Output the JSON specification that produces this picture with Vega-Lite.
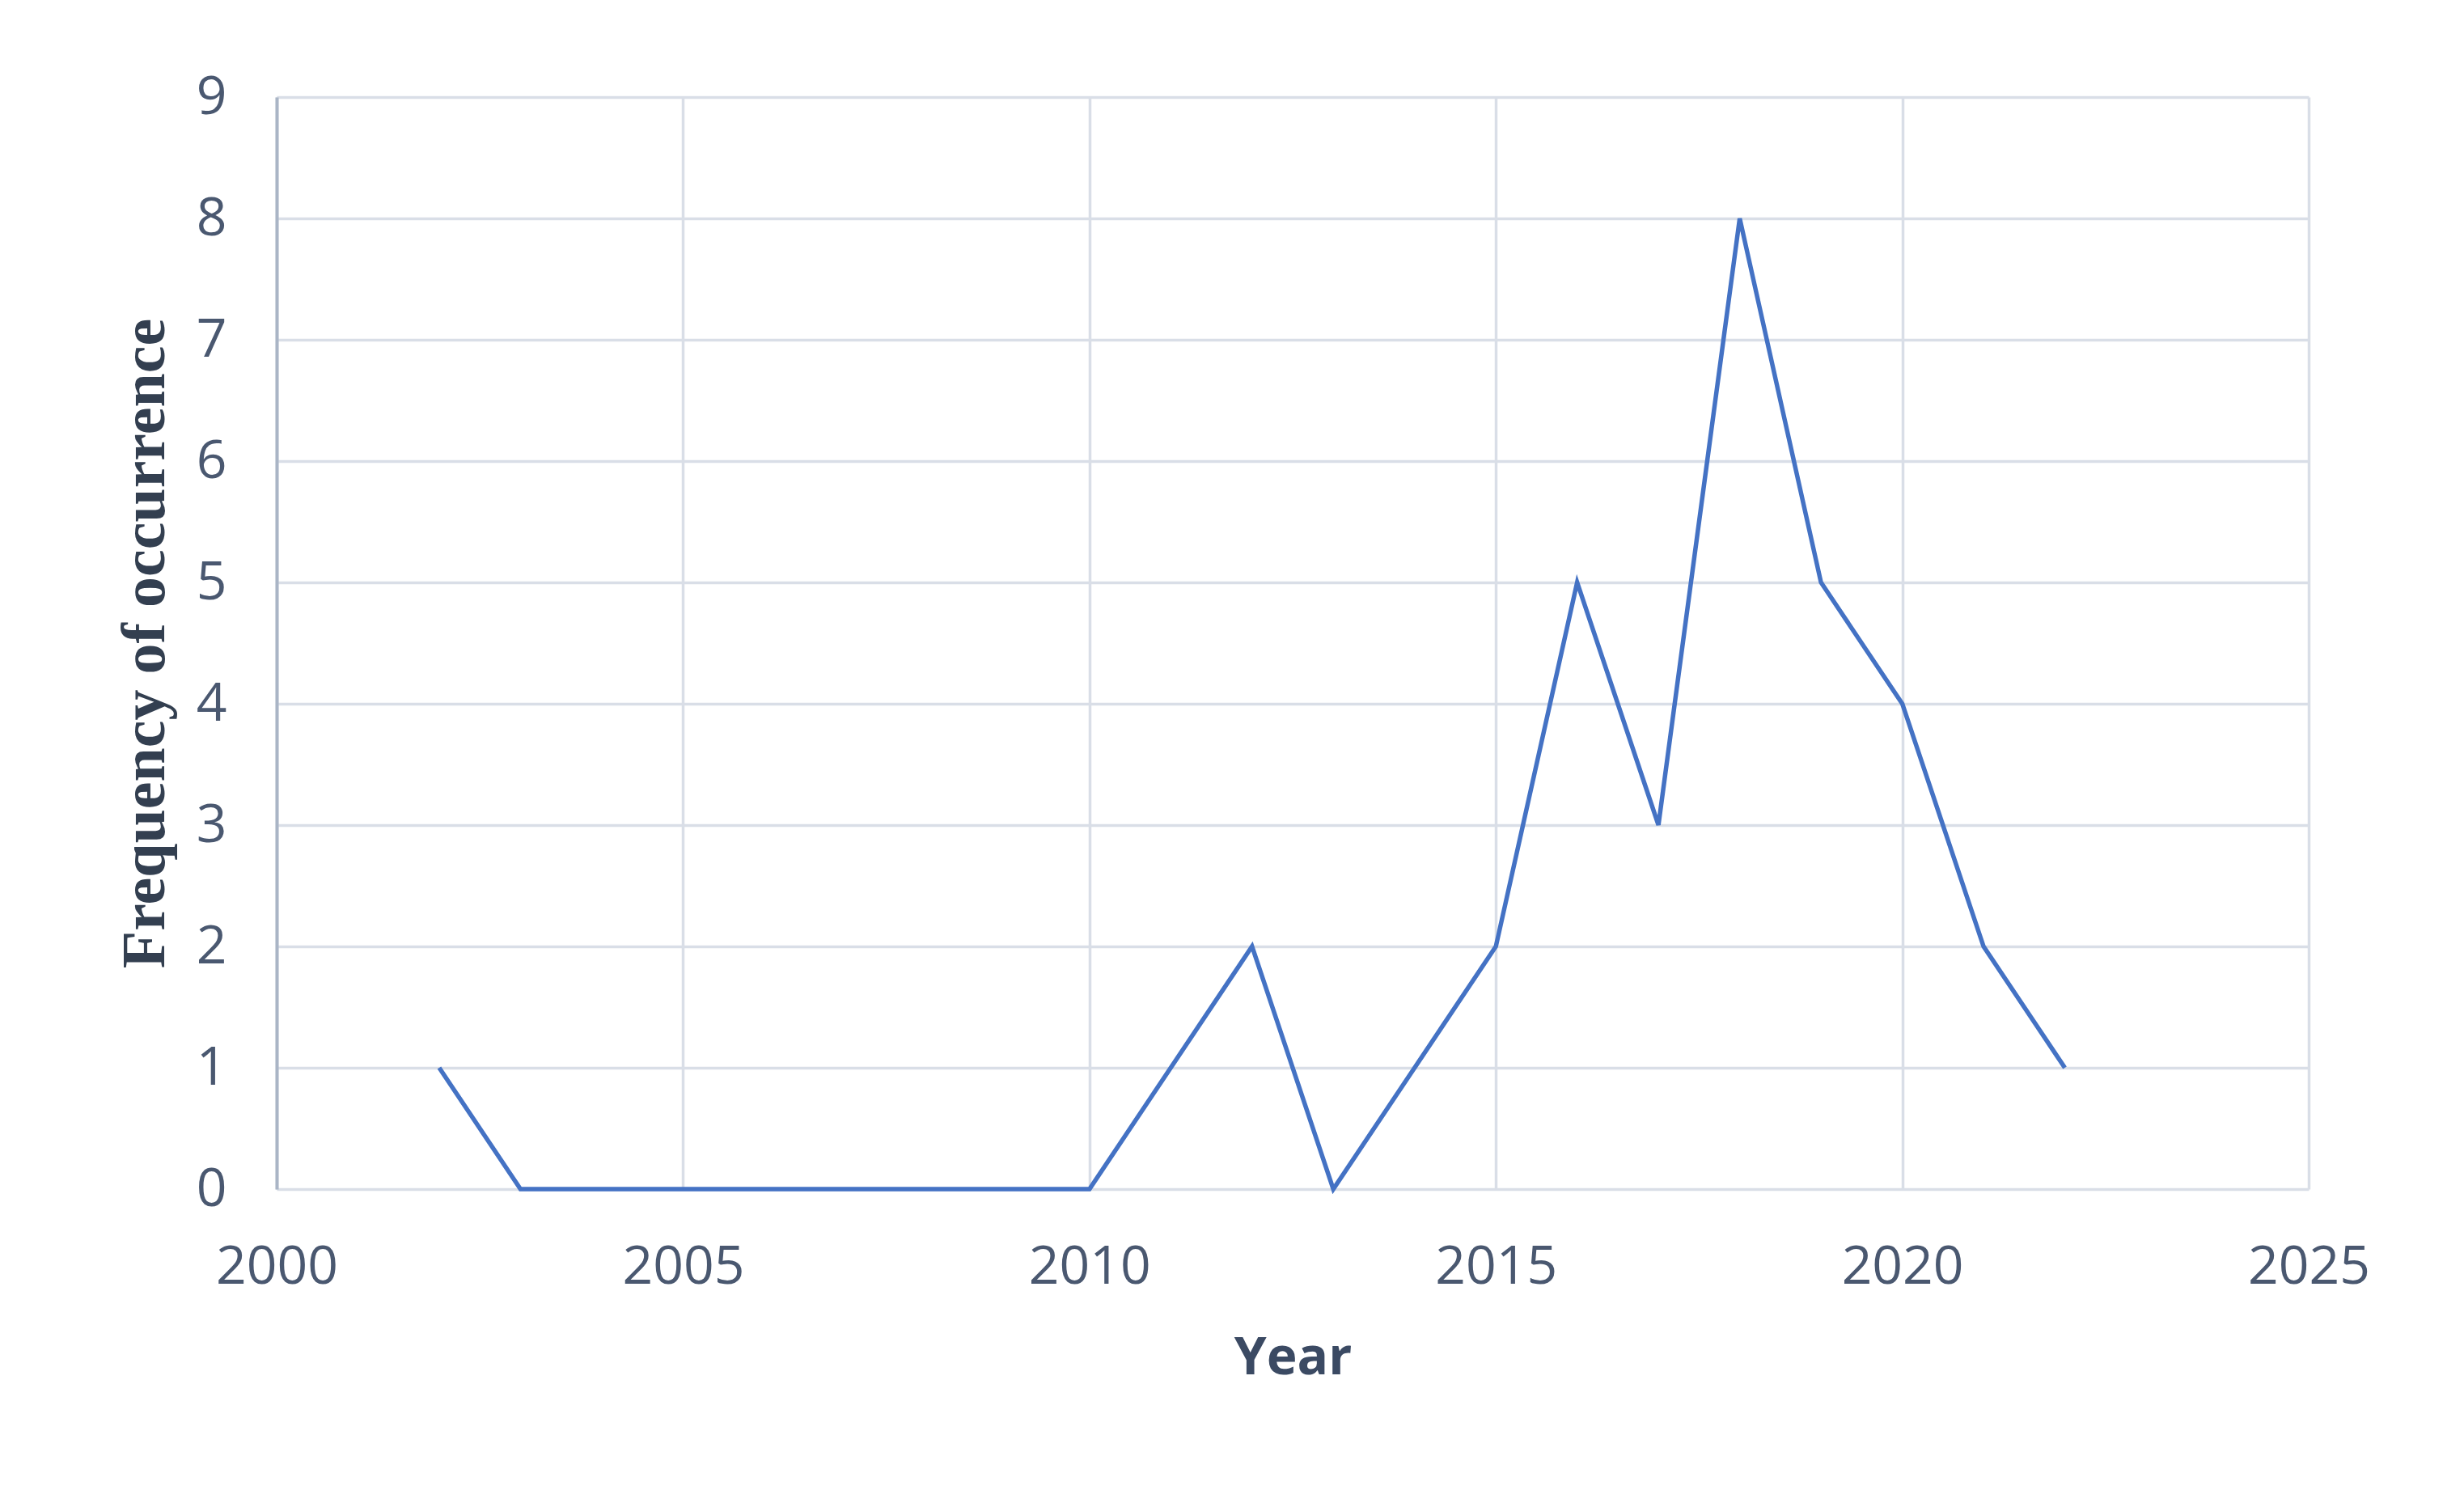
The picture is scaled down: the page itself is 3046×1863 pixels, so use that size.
{
  "$schema": "https://vega.github.io/schema/vega-lite/v6.json",
  "width": 2512,
  "height": 1350,
  "autosize": {"type": "none"},
  "padding": {"left": 342, "top": 120, "right": 192, "bottom": 393},
  "background": "white",
  "config": {
    "view": {"stroke": null},
    "axis": {"grid": true, "gridColor": "#d9dee7", "gridWidth": 3.5, "ticks": false}
  },
  "data": {
    "values": [
      {"year": 2002, "freq": 1},
      {"year": 2003, "freq": 0},
      {"year": 2004, "freq": 0},
      {"year": 2005, "freq": 0},
      {"year": 2006, "freq": 0},
      {"year": 2007, "freq": 0},
      {"year": 2008, "freq": 0},
      {"year": 2009, "freq": 0},
      {"year": 2010, "freq": 0},
      {"year": 2011, "freq": 1},
      {"year": 2012, "freq": 2},
      {"year": 2013, "freq": 0},
      {"year": 2014, "freq": 1},
      {"year": 2015, "freq": 2},
      {"year": 2016, "freq": 5},
      {"year": 2017, "freq": 3},
      {"year": 2018, "freq": 8},
      {"year": 2019, "freq": 5},
      {"year": 2020, "freq": 4},
      {"year": 2021, "freq": 2},
      {"year": 2022, "freq": 1}
    ]
  },
  "mark": {"type": "line", "color": "#4472c4", "strokeWidth": 5.5},
  "encoding": {
    "x": {
      "field": "year",
      "type": "quantitative",
      "scale": {"domain": [2000, 2025], "nice": false, "zero": false},
      "axis": {
        "values": [2000, 2005, 2010, 2015, 2020, 2025],
        "format": "d",
        "title": "Year",
        "domain": false,
        "labelFont": "Open Sans",
        "labelFontSize": 66,
        "labelColor": "#4a5870",
        "labelPadding": 64,
        "labelFlush": false,
        "titleFont": "Open Sans",
        "titleFontSize": 64,
        "titleFontWeight": "bold",
        "titleColor": "#3b4a63",
        "titlePadding": 48
      }
    },
    "y": {
      "field": "freq",
      "type": "quantitative",
      "scale": {"domain": [0, 9], "nice": false},
      "axis": {
        "values": [0, 1, 2, 3, 4, 5, 6, 7, 8, 9],
        "title": "Frequency of occurrence",
        "domain": true,
        "domainColor": "#aab5c6",
        "domainWidth": 4,
        "labelFont": "Open Sans",
        "labelFontSize": 66,
        "labelColor": "#4a5870",
        "labelPadding": 62,
        "labelFlush": false,
        "titleFont": "Liberation Serif",
        "titleFontSize": 76,
        "titleFontWeight": "bold",
        "titleColor": "#333f50",
        "titlePadding": 24
      }
    }
  }
}
